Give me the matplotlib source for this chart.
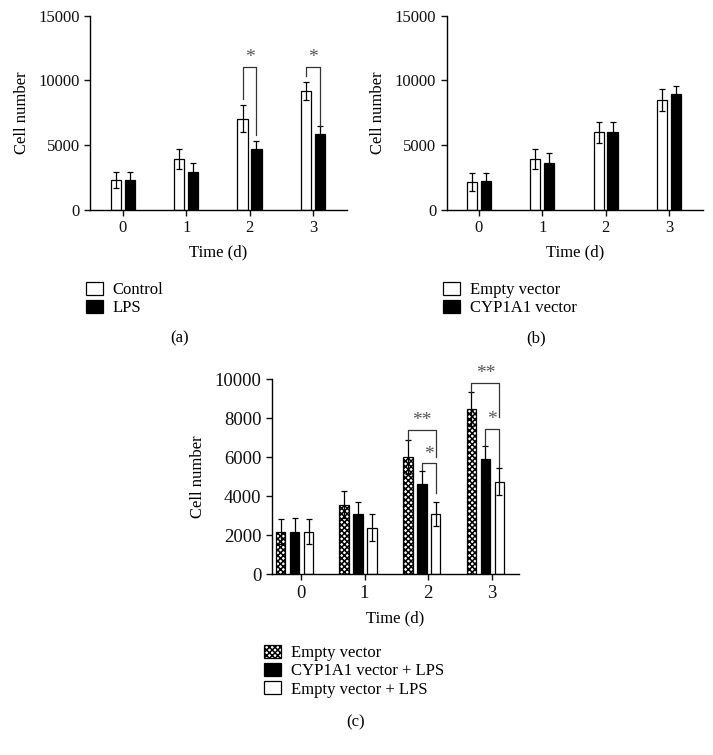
import numpy as np
import matplotlib.pyplot as plt

plt.rcParams['font.family'] = ['Liberation Serif', 'DejaVu Serif']
plt.rcParams['hatch.linewidth'] = 1.1

days = [0, 1, 2, 3]

# panel (a)
a_control = [2300, 3950, 7050, 9200]
a_control_err = [620, 770, 1030, 700]
a_lps = [2300, 2960, 4700, 5870]
a_lps_err = [620, 700, 650, 640]

# panel (b)
b_empty = [2160, 3910, 5990, 8490]
b_empty_err = [720, 770, 820, 820]
b_cyp = [2210, 3600, 5990, 8930]
b_cyp_err = [620, 770, 770, 670]

# panel (c)
c_empty = [2190, 3570, 6000, 8460]
c_empty_err = [630, 700, 870, 870]
c_cyp_lps = [2190, 3080, 4650, 5930]
c_cyp_lps_err = [680, 610, 650, 650]
c_empty_lps = [2190, 2390, 3090, 4750]
c_empty_lps_err = [630, 680, 620, 690]

# significance: (day, left series, right series, top, left leg end, right leg end, label)
a_sig = [(2, 0, 1, 11060, 8550, 5790, '*'),
         (3, 0, 1, 11060, 10350, 6510, '*')]
c_sig = [(2, 0, 2, 7400, 6880, 6020, '**'),
         (2, 1, 2, 5690, 5350, 4150, '*'),
         (3, 0, 2, 9830, 9360, 8080, '**'),
         (3, 1, 2, 7440, 6630, 5520, '*')]

W, H = 713, 755
fig = plt.figure(figsize=(W / 100, H / 100), dpi=100)


def px_axes(x0, x1, y_top, y_bot):
    return fig.add_axes([x0 / W, 1 - y_bot / H, (x1 - x0) / W, (y_bot - y_top) / H])


def style(ax, xlim, ylim, yticks, tick_fs=12):
    ax.set_xlim(*xlim)
    ax.set_ylim(*ylim)
    ax.set_yticks(yticks)
    ax.set_xticks(days)
    for s in ['top', 'right']:
        ax.spines[s].set_visible(False)
    for s in ['left', 'bottom']:
        ax.spines[s].set_linewidth(1.0)
    ax.tick_params(length=4, width=1.0, labelsize=tick_fs, colors='#111111')
    ax.set_ylabel('Cell number', fontsize=12, labelpad=6)
    ax.set_xlabel('Time (d)', fontsize=12, labelpad=6)


def draw_bars(ax, series, errs, offsets, width, styles):
    x = np.array(days, dtype=float)
    centers = []
    handles = []
    for vals, err, off, st in zip(series, errs, offsets, styles):
        b = ax.bar(x + off, vals, width=width, edgecolor='black', linewidth=0.9,
                   zorder=2, **st)
        ax.errorbar(x + off, vals, yerr=err, fmt='none', ecolor='black',
                    elinewidth=0.9, capsize=2.5, capthick=0.9, zorder=3)
        centers.append(x + off)
        handles.append(b)
    return centers, handles


def draw_sig(ax, centers, sig, star_off):
    for day, i, j, top, yl, yr, lab in sig:
        x1 = centers[i][day]
        x2 = centers[j][day]
        ax.plot([x1, x1, x2, x2], [yl, top, top, yr], color='#333333', lw=0.9,
                zorder=4, clip_on=False)
        ax.text((x1 + x2) / 2, top + star_off, lab, ha='center', va='bottom',
                fontsize=14, color='#555555')


def legend(handles, labels, x, y):
    fig.legend(handles, labels, loc='upper left', bbox_to_anchor=(x / W, 1 - y / H),
               frameon=False, fontsize=12, handlelength=1.0, handleheight=0.8,
               handletextpad=0.6, labelspacing=0.12, borderpad=0, borderaxespad=0)


white = dict(color='white')
black = dict(color='black')
hatched = dict(color='white', hatch='xxxxxx')

# (a)
ax_a = px_axes(90, 347, 15.7, 210)
ca, ha = draw_bars(ax_a, [a_control, a_lps], [a_control_err, a_lps_err],
                   [-0.11, 0.11], 0.16, [white, black])
draw_sig(ax_a, ca, a_sig, 50)
style(ax_a, (-0.52, 3.54), (0, 15000), [0, 5000, 10000, 15000])
legend(ha, ['Control', 'LPS'], 86, 282)
fig.text(180 / W, 1 - 338 / H, '(a)', ha='center', va='center', fontsize=12)

# (b)
ax_b = px_axes(446.7, 703, 15.7, 210)
cb, hb = draw_bars(ax_b, [b_empty, b_cyp], [b_empty_err, b_cyp_err],
                   [-0.11, 0.11], 0.16, [white, black])
style(ax_b, (-0.51, 3.54), (0, 15000), [0, 5000, 10000, 15000])
legend(hb, ['Empty vector', 'CYP1A1 vector'], 443, 282)
fig.text(536 / W, 1 - 338 / H, '(b)', ha='center', va='center', fontsize=12)

# (c)
ax_c = px_axes(271.7, 519, 379.3, 574.3)
cc, hc = draw_bars(ax_c, [c_empty, c_cyp_lps, c_empty_lps],
                   [c_empty_err, c_cyp_lps_err, c_empty_lps_err],
                   [-0.32, -0.1, 0.12], 0.15, [hatched, black, white])
draw_sig(ax_c, cc, c_sig, 40)
style(ax_c, (-0.46, 3.43), (0, 10000), list(range(0, 10001, 2000)), tick_fs=13.5)
legend(hc, ['Empty vector', 'CYP1A1 vector + LPS', 'Empty vector + LPS'], 264, 645)
fig.text(356 / W, 1 - 722 / H, '(c)', ha='center', va='center', fontsize=12)

fig.savefig('out.png', dpi=100)
